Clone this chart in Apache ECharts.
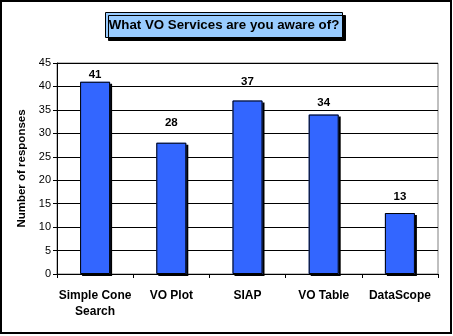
<!DOCTYPE html>
<html>
<head>
<meta charset="utf-8">
<script src="https://cdn.jsdelivr.net/npm/echarts@6/dist/echarts.min.js"></script>
<style>
  html, body { margin: 0; padding: 0; background: #fff; }
  #chart { width: 453px; height: 336px; }
</style>
</head>
<body>
<div id="chart"></div>
<script>
// Survey: which VO services respondents know about
const categories = ['Simple Cone\nSearch', 'VO Plot', 'SIAP', 'VO Table', 'DataScope'];
const responses = [41, 28, 37, 34, 13];
const yTicks = { min: 0, max: 45, interval: 5 };
const chartTitle = 'What VO Services are you aware of?';
const yAxisTitle = 'Number of responses';

// label spacing above each bar (px), as placed in the original layout
const labelGaps = [1, 14, 13, 6, 10];

const font = 'Arial, "Liberation Sans", sans-serif';
const chart = echarts.init(document.getElementById('chart'), null, { renderer: 'canvas' });

const barData = responses.map((v, i) => ({ value: v, label: { distance: labelGaps[i] } }));

chart.setOption({
  animation: false,
  backgroundColor: '#ffffff',
  grid: {
    left: 57, right: 15, top: 63, bottom: 62,
    show: true, borderColor: '#808080', borderWidth: 1,
    containLabel: false
  },
  graphic: [
    {
      type: 'rect', z: 0, silent: true,
      shape: { x: 1, y: 1, width: 450, height: 332 },
      style: { fill: 'none', stroke: '#000', lineWidth: 2 }
    },
    {
      type: 'rect', z: 10, silent: true,
      shape: { x: 105.5, y: 12.5, width: 237, height: 25 },
      style: {
        fill: '#99ccff', stroke: '#000', lineWidth: 1,
        shadowColor: '#000', shadowBlur: 0, shadowOffsetX: 3, shadowOffsetY: 3
      }
    },
    {
      type: 'text', z: 11, silent: true,
      x: 224, y: 25.5,
      style: {
        text: chartTitle, fill: '#000',
        font: 'bold 13.3px ' + font,
        align: 'center', verticalAlign: 'middle'
      }
    }
  ],
  xAxis: {
    type: 'category',
    data: categories,
    boundaryGap: true,
    axisLine: { show: true, lineStyle: { color: '#000', width: 1 } },
    axisTick: { show: true, alignWithLabel: false, length: 4, lineStyle: { color: '#000' } },
    axisLabel: {
      color: '#000', fontFamily: font, fontWeight: 'bold', fontSize: 12,
      margin: 14, lineHeight: 16, interval: 0
    },
    splitLine: { show: false }
  },
  yAxis: {
    type: 'value',
    min: yTicks.min, max: yTicks.max, interval: yTicks.interval,
    name: yAxisTitle,
    nameLocation: 'middle',
    nameGap: 24,
    nameRotate: 90,
    nameTextStyle: { color: '#000', fontFamily: font, fontWeight: 'bold', fontSize: 11.5 },
    axisLine: { show: true, lineStyle: { color: '#000', width: 1 } },
    axisTick: { show: true, length: 4, lineStyle: { color: '#000' } },
    axisLabel: { color: '#000', fontFamily: font, fontSize: 11, margin: 6 },
    splitLine: { show: true, lineStyle: { color: '#000', width: 1 } }
  },
  series: [
    {
      // filled bars with a hard drop shadow
      type: 'bar',
      data: barData,
      barWidth: 30,
      barGap: '-100%',
      z: 2,
      itemStyle: {
        color: '#3366ff', borderWidth: 0,
        shadowColor: '#000', shadowBlur: 0, shadowOffsetX: 2, shadowOffsetY: 2
      },
      label: {
        show: true, position: 'top',
        color: '#000', fontFamily: font, fontWeight: 'bold', fontSize: 11.5
      }
    },
    {
      // black outline drawn on top, without shadow
      type: 'bar',
      data: responses,
      barWidth: 30,
      barGap: '-100%',
      z: 3,
      silent: true,
      itemStyle: { color: 'rgba(0,0,0,0)', borderColor: '#000', borderWidth: 1 },
      label: { show: false }
    }
  ]
});
</script>
</body>
</html>
